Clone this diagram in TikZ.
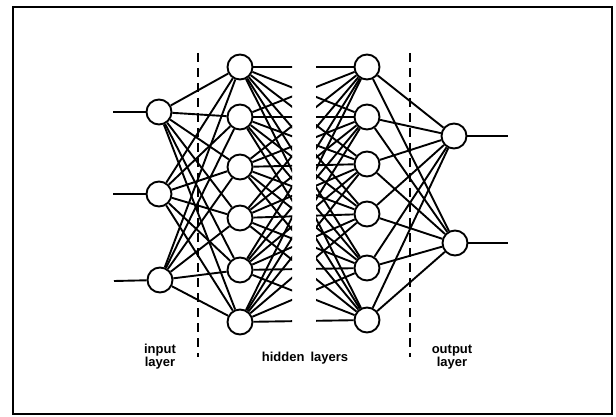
\documentclass[tikz,border=0pt]{standalone}
\usepackage{fontspec}
\newfontfamily\lblfont{Liberation Sans}
\begin{document}
\begin{tikzpicture}[x=1pt,y=-1pt,
  neuron/.style={circle,draw,line width=1.9pt,minimum size=25pt,inner sep=0pt,fill=white},
  conn/.style={line width=1.9pt},
  sep/.style={line width=1.6pt,dash pattern=on 9pt off 6pt},
  lbl/.style={font=\lblfont\bfseries\fontsize{13}{11.5}\selectfont,align=center,inner sep=0pt}]
\useasboundingbox (0,0) rectangle (616,417);
\draw[line width=2.6pt] (13,7) rectangle (612,414);
% nodes
\node[neuron] (i1) at (159,112) {};
\node[neuron] (i2) at (159,194) {};
\node[neuron] (i3) at (160,280) {};
\foreach \k/\y in {1/67,2/117,3/167,4/218,5/270,6/322}{
  \node[neuron] (a\k) at (240,\y) {};
}
\foreach \k/\y in {1/67,2/117,3/164,4/214,5/268,6/320}{
  \node[neuron] (b\k) at (367,\y) {};
}
\node[neuron] (o1) at (454,136) {};
\node[neuron] (o2) at (455,243) {};
% input and output stubs
\coordinate (s1) at (113,112);
\coordinate (s2) at (113,194);
\coordinate (s3) at (114,281);
\coordinate (t1) at (508,136);
\coordinate (t2) at (508,243);
\foreach \k in {1,2,3}{ \draw[conn] (s\k) -- (i\k); }
\draw[conn] (o1) -- (t1);
\draw[conn] (o2) -- (t2);
% input -> hidden 1
\foreach \i in {1,2,3}{
  \foreach \j in {1,...,6}{ \draw[conn] (i\i) -- (a\j); }
}
% hidden 1 -> hidden 2, broken in the middle
\begin{scope}
  \clip (0,0) rectangle (292,417);
  \foreach \i in {1,...,6}{
    \foreach \j in {1,...,6}{ \draw[conn] (a\i) -- (b\j); }
  }
\end{scope}
\begin{scope}
  \clip (316,0) rectangle (616,417);
  \foreach \i in {1,...,6}{
    \foreach \j in {1,...,6}{ \draw[conn] (a\i) -- (b\j); }
  }
\end{scope}
% hidden 2 -> output
\foreach \i in {1,...,6}{
  \foreach \j in {1,2}{ \draw[conn] (b\i) -- (o\j); }
}
% separators
\coordinate (d1) at (198,53);
\coordinate (d2) at (198,357);
\coordinate (e1) at (410,53);
\coordinate (e2) at (410,357);
\draw[sep] (d1) -- (d2);
\draw[sep] (e1) -- (e2);
% labels
\node[lbl] (l1) at (160,357) {input\\layer};
\node[lbl] (l2) at (305,358) {hidden\hspace{6pt}layers};
\node[lbl] (l3) at (452,357) {output\\layer};
\end{tikzpicture}
\end{document}
